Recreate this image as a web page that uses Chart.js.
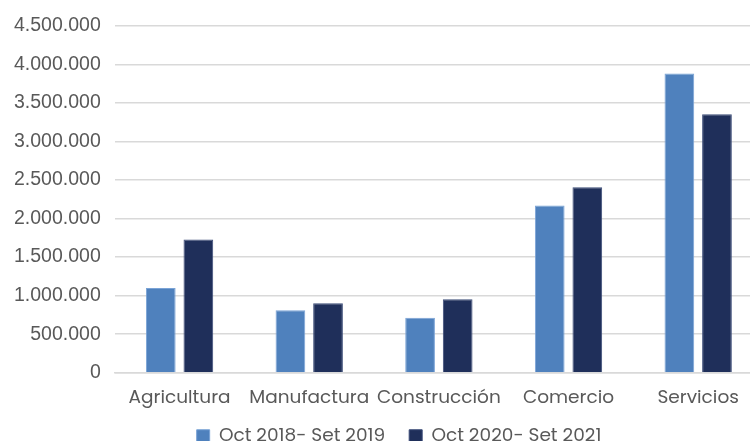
<!DOCTYPE html>
<html>
<head>
<meta charset="utf-8">
<script src="https://cdn.jsdelivr.net/npm/chart.js@4/dist/chart.umd.min.js"></script>
<style>
  html, body { margin: 0; padding: 0; background: #ffffff; }
  #wrap { width: 750px; height: 441px; }
</style>
</head>
<body>
<div id="wrap"><canvas id="myChart"></canvas></div>
<script>
    // categories and series
    const sectors = ['Agricultura', 'Manufactura', 'Construcción', 'Comercio', 'Servicios'];
    const period2019 = [1100000, 812000, 713000, 2170000, 3881000];
    const period2021 = [1728000, 902000, 954000, 2406000, 3352000];
    const seriesNames = ['Oct 2018- Set 2019', 'Oct 2020- Set 2021'];

    // dots as thousand separators
    function fmt(v) {
        return String(Math.round(v)).replace(/\B(?=(\d{3})+(?!\d))/g, '.');
    }

    const textColor = '#595959';
    const gridColor = '#d9d9d9';

    // legend keeps a wide padding (gap between items) but takes less room
    const shortLegend = {
        id: 'shortLegend',
        beforeLayout(chart) {
            const lg = chart.legend;
            if (lg && !lg._patched) {
                const origFit = lg.fit;
                lg.fit = function () {
                    origFit.call(this);
                    this.height = 26;
                };
                lg._patched = true;
            }
        },
        afterLayout(chart) {
            // pull the legend up and a bit right, bottom stays at the canvas edge
            const lg = chart.legend;
            if (lg) {
                lg.top -= 12;
                lg.left = 24;
                lg.right = 774;
            }
            // plot area runs a little past the right edge, as in the original
            const xs = chart.scales.x;
            const extra = 13;
            xs.right += extra;
            xs.width += extra;
            xs.configure();
            chart.chartArea.right += extra;
            chart.chartArea.width += extra;
        }
    };

    new Chart(document.getElementById('myChart'), {
        type: 'bar',
        data: {
            labels: sectors,
            datasets: [{
                label: seriesNames[0],
                data: period2019,
                backgroundColor: '#4f81bd',
                borderColor: '#7aa3d6',
                borderWidth: 1,
                categoryPercentage: 0.58,
                barPercentage: 0.79
            }, {
                label: seriesNames[1],
                data: period2021,
                backgroundColor: '#1f2f5a',
                borderColor: '#3c4c78',
                borderWidth: 1,
                categoryPercentage: 0.58,
                barPercentage: 0.79
            }]
        },
        plugins: [shortLegend],
        options: {
            responsive: true,
            maintainAspectRatio: false,
            animation: false,
            layout: { padding: { left: 0, right: 0, top: 5, bottom: 0 } },
            scales: {
                x: {
                    grid: { display: false },
                    border: { color: gridColor, width: 1.5 },
                    ticks: {
                        color: textColor,
                        padding: 6,
                        maxRotation: 0,
                        autoSkip: false,
                        font: { family: 'Poppins, "Open Sans", sans-serif', size: 18.5 }
                    }
                },
                y: {
                    min: 0,
                    max: 4500000,
                    ticks: {
                        stepSize: 500000,
                        color: textColor,
                        padding: 14,
                        callback: v => fmt(v),
                        font: { family: '"Liberation Sans", Arial, sans-serif', size: 19.5 }
                    },
                    grid: { color: gridColor, lineWidth: 1.5, drawTicks: false },
                    border: { display: false }
                }
            },
            plugins: {
                legend: {
                    position: 'bottom',
                    labels: {
                        color: textColor,
                        boxWidth: 13,
                        boxHeight: 13,
                        padding: 24,
                        font: { family: 'Poppins, "Open Sans", sans-serif', size: 18.5 }
                    }
                },
                tooltip: { enabled: false }
            }
        }
    });
</script>
</body>
</html>
